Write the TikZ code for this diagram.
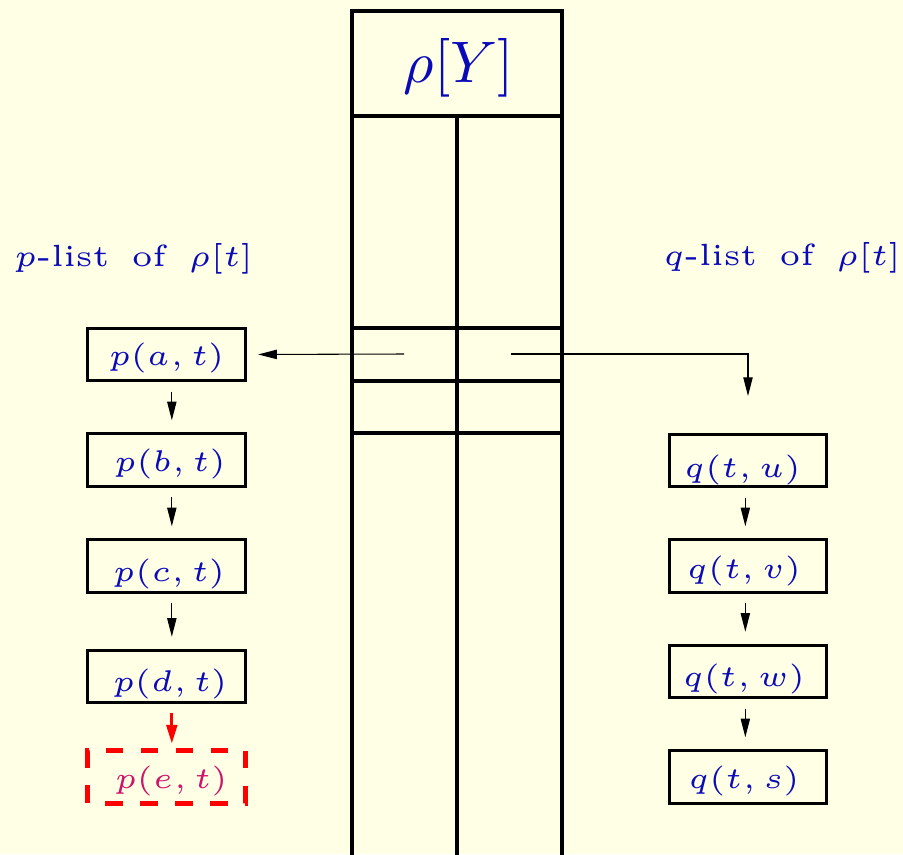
\documentclass[tikz,border=0pt]{standalone}
\usepackage{graphicx}
\usetikzlibrary{arrows.meta}
\definecolor{bgc}{RGB}{255,255,229}
\definecolor{txtblue}{RGB}{10,10,185}
\definecolor{txtmag}{RGB}{205,20,105}
% #1 = horizontal shift, #2 = downward shift, #3 = math content
\newcommand{\lab}[3]{\kern#1\raisebox{-#2}[\height][\depth]{\scalebox{4.5}{\fontsize{5}{6}\selectfont$#3$}}\kern-#1}
\newcommand{\headlab}[1]{\scalebox{4.6}{\fontsize{5}{6}\selectfont #1}}
\begin{document}
\begin{tikzpicture}[x=0.75pt,y=-0.75pt,
  thickln/.style={line width=2.4pt,black},
  listbox/.style={draw=black,line width=2.3pt,minimum width=118pt,minimum height=39.4pt,inner sep=0pt,text=txtblue},
  newbox/.style={draw=red,line width=3.7pt,dash pattern=on 13.1pt off 13.1pt,dash phase=13.1pt,minimum width=118pt,minimum height=39.4pt,inner sep=0pt,text=txtmag},
  link/.style={line width=0.8pt,-{Triangle[length=14pt,width=7pt]}},
  newlink/.style={red,line width=2.3pt,-{Triangle[length=14pt,width=8pt]}}]
\useasboundingbox[fill=bgc] (0,0) rectangle (903,854);
% column
\draw[thickln] (352,860) -- (352,11) -- (562,11) -- (562,860);
\draw[thickln] (352,116) -- (562,116);
\draw[thickln] (457,116) -- (457,860);
\draw[thickln] (352,328) -- (562,328);
\draw[thickln] (352,381) -- (562,381);
\draw[thickln] (352,433) -- (562,433);
\node[text=txtblue,inner sep=0pt] (title) at (459,67.5) {\scalebox{4.4}{$\rho[Y]$}};
% list headers
\node[text=txtblue,inner sep=0pt] (phead) at (133.5,259) {\headlab{$p$-list\hspace{1.3pt} of\hspace{1.3pt} $\rho[t]$}};
\node[text=txtblue,inner sep=0pt] (qhead) at (782,258) {\headlab{$q$-list\hspace{1.3pt} of\hspace{1.3pt} $\rho[t]$}};
% p list
\node[listbox] (pa) at (166.5,354.5) {\lab{0pt}{2.25pt}{p(a,t)}};
\node[listbox] (pb) at (166.5,460) {\lab{2.6pt}{3pt}{p(b,t)}};
\node[listbox] (pc) at (166.5,566) {\lab{1.9pt}{6pt}{p(c,t)}};
\node[listbox] (pd) at (166.5,676.5) {\lab{2.6pt}{5.25pt}{p(d,t)}};
\node[newbox] (pe) at (166.5,777) {\lab{3.4pt}{3pt}{p(e,t)}};
% q list
\node[listbox] (qu) at (748,460.5) {\lab{-4.1pt}{6.75pt}{q(t,u)}};
\node[listbox] (qv) at (748,566) {\lab{-3pt}{3.75pt}{q(t,v)}};
\node[listbox] (qw) at (748,671.5) {\lab{-3pt}{5.6pt}{q(t,w)}};
\node[listbox] (qs) at (748,777) {\lab{-3pt}{3pt}{q(t,s)}};
% pointers from the column
\coordinate (pptr) at (404,354);
\coordinate (qptr) at (511,354);
\coordinate (qend) at (748,396);
\draw[link,shorten >=8.6pt] (pptr) -- (pa.east);
\draw[link] (qptr) -| (qend);
% list links
\draw[link,shorten <=7pt,shorten >=9pt] ([xshift=4pt]pa.south) -- ([xshift=4pt]pb.north);
\draw[link,shorten <=7pt,shorten >=9pt] ([xshift=4pt]pb.south) -- ([xshift=4pt]pc.north);
\draw[link,shorten <=7pt,shorten >=9pt] ([xshift=4pt]pc.south) -- ([xshift=4pt]pd.north);
\draw[newlink,shorten <=6.5pt,shorten >=3.5pt] ([xshift=4pt]pd.south) -- ([xshift=4pt]pe.north);
\draw[link,shorten <=7pt,shorten >=9pt] ([xshift=-2pt]qu.south) -- ([xshift=-2pt]qv.north);
\draw[link,shorten <=7pt,shorten >=9pt] ([xshift=-2pt]qv.south) -- ([xshift=-2pt]qw.north);
\draw[link,shorten <=7pt,shorten >=9pt] ([xshift=-2pt]qw.south) -- ([xshift=-2pt]qs.north);
\end{tikzpicture}
\end{document}
